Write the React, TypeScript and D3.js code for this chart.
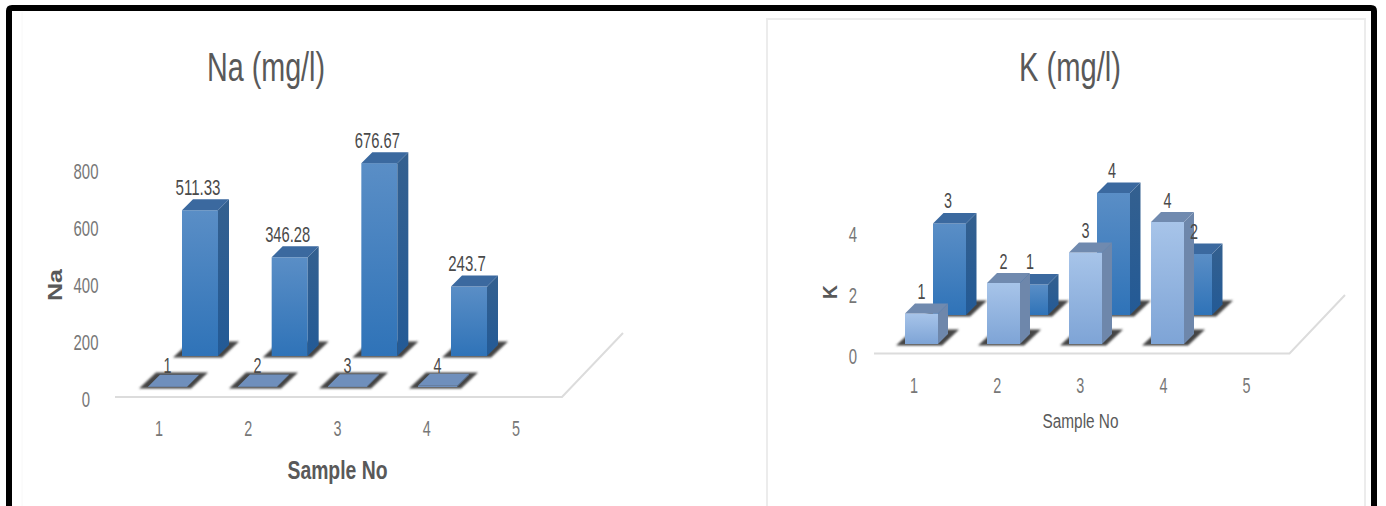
import React from "react";
import * as d3 from "d3";

// Sample numbers form the front row of both charts and label the horizontal axis.
const sampleNumbers = [1, 2, 3, 4];
const axisCategories = [1, 2, 3, 4, 5];
const naValues = [511.33, 346.28, 676.67, 243.7];
const kValues = [3, 1, 4, 2];
const naTicks = [0, 200, 400, 600, 800];
const kTicks = [0, 2, 4];

const NARROW = "'Liberation Sans Narrow', 'Liberation Sans', sans-serif";
const WIDE = "'Liberation Sans', sans-serif";

type Palette = { face: string; side: string; top: string };
const DARK_ROW: Palette = { face: "url(#faceDark)", side: "url(#sideDark)", top: "#3b699f" };
const LIGHT_ROW: Palette = { face: "url(#faceLight)", side: "#6e87ab", top: "#708aaf" };
const FLAT_ROW: Palette = { face: "#6f8fbc", side: "#5f7a9f", top: "#6f8fbc" };

type Row = {
  values: number[];
  left: [number, number];
  base: number;
  width: number;
  depth: number;
  labelGap: number;
  labelDx: number;
  palette: Palette;
};

type Spec = {
  title: string;
  titleX: number;
  titleWidth: number;
  yName: string;
  yNameX: number;
  yNameY: number;
  yNameLength: number;
  yDomain: [number, number];
  yRange: [number, number];
  yTicks: number[];
  yTickX: number;
  tickRange: [number, number];
  tickY: number;
  xName: { x: number; y: number; size: number; width: number; weight: number };
  floor: [number, number][];
  rows: Row[];
};

const naSpec: Spec = {
  title: "Na (mg/l)",
  titleX: 266,
  titleWidth: 118,
  yName: "Na",
  yNameX: 55,
  yNameY: 285,
  yNameLength: 32,
  yDomain: [0, 800],
  yRange: [399, 171],
  yTicks: naTicks,
  yTickX: 86,
  tickRange: [159, 516],
  tickY: 428,
  xName: { x: 337.5, y: 470, size: 25, width: 100, weight: 700 },
  floor: [[115, 397], [562, 397], [623, 333]],
  rows: [
    { values: naValues, left: [182, 451], base: 356, width: 36, depth: 11, labelGap: 12, labelDx: -2, palette: DARK_ROW },
    { values: sampleNumbers, left: [148, 418], base: 387, width: 39, depth: 12, labelGap: 9, labelDx: 0, palette: FLAT_ROW },
  ],
};

const kSpec: Spec = {
  title: "K (mg/l)",
  titleX: 1070,
  titleWidth: 102,
  yName: "K",
  yNameX: 830,
  yNameY: 292,
  yNameLength: 14,
  yDomain: [0, 4],
  yRange: [356, 234],
  yTicks: kTicks,
  yTickX: 853,
  tickRange: [914, 1246.5],
  tickY: 385,
  xName: { x: 1080.5, y: 420.5, size: 20, width: 76, weight: 400 },
  floor: [[874, 353.5], [1289.5, 353.5], [1345, 295]],
  rows: [
    { values: kValues, left: [933, 1179], base: 315, width: 33, depth: 10.5, labelGap: 12.5, labelDx: -1.5, palette: DARK_ROW },
    { values: sampleNumbers, left: [905, 1151], base: 344, width: 33, depth: 10, labelGap: 12, labelDx: 0, palette: LIGHT_ROW },
  ],
};

const points = (pts: [number, number][]) => pts.map((p) => p.join(",")).join(" ");

// Text squeezed to a set length, as the narrow digits and titles are drawn.
function Label(props: {
  x: number; y: number; text: string; size: number; width: number; fill: string;
  weight?: number; family?: string; rotate?: boolean;
}) {
  const { x, y, text, size, width, fill, weight = 400, family = NARROW, rotate } = props;
  return (
    <text
      x={x}
      y={y}
      dy="0.35em"
      textAnchor="middle"
      fontFamily={family}
      fontSize={size}
      fontWeight={weight}
      fill={fill}
      textLength={width}
      lengthAdjust="spacingAndGlyphs"
      transform={rotate ? `rotate(-90 ${x} ${y})` : undefined}
    >
      {text}
    </text>
  );
}

function Chart({ spec }: { spec: Spec }) {
  const y = d3.scaleLinear().domain(spec.yDomain).range(spec.yRange);
  const tickX = d3.scaleLinear().domain([1, 5]).range(spec.tickRange);
  const floorLine = d3.line()(spec.floor) ?? "";

  return (
    <g>
      <path d={floorLine} fill="none" stroke="#dcdcdc" strokeWidth={2} />
      <Label x={spec.titleX} y={67} text={spec.title} size={40} width={spec.titleWidth} fill="#595959" />
      <Label
        x={spec.yNameX} y={spec.yNameY} text={spec.yName} size={20} width={spec.yNameLength}
        fill="#595959" weight={700} family={WIDE} rotate
      />
      <Label
        x={spec.xName.x} y={spec.xName.y} text="Sample No" size={spec.xName.size}
        width={spec.xName.width} fill="#595959" weight={spec.xName.weight}
      />
      {spec.yTicks.map((t) => (
        <Label key={t} x={spec.yTickX} y={y(t)} text={String(t)} size={22} width={String(t).length * 8.3} fill="#777" />
      ))}
      {axisCategories.map((c) => (
        <Label key={c} x={tickX(c)} y={spec.tickY} text={String(c)} size={22} width={8} fill="#777" />
      ))}
      {spec.rows.map((row, r) => {
        const barX = d3.scaleLinear().domain([1, 4]).range(row.left);
        const { width: w, depth: d, base, palette } = row;
        return (
          <g key={r}>
            {row.values.map((v, i) => {
              const l = barX(sampleNumbers[i]);
              const h = y(0) - y(v);
              const t = base - h;
              return (
                <g key={i}>
                  <polygon
                    filter="url(#soften)"
                    fill="#444"
                    points={points([
                      [l - 9, base + 1.5], [l + w + 4, base + 1.5],
                      [l + w + 21, base - 14.5], [l + 8, base - 14.5],
                    ])}
                  />
                  <rect x={l} y={t} width={w} height={h} fill={palette.face} />
                  <polygon fill={palette.side} points={points([[l + w, t], [l + w + d, t - d], [l + w + d, base - d], [l + w, base]])} />
                  <polygon fill={palette.top} points={points([[l, t], [l + w, t], [l + w + d, t - d], [l + d, t - d]])} />
                </g>
              );
            })}
          </g>
        );
      })}
      {spec.rows.map((row, r) => {
        const barX = d3.scaleLinear().domain([1, 4]).range(row.left);
        return row.values.map((v, i) => {
          const text = String(v);
          const top = row.base - (y(0) - y(v)) - row.depth;
          return (
            <Label
              key={`${r}-${i}`}
              x={barX(sampleNumbers[i]) + row.width / 2 + row.labelDx}
              y={top - row.labelGap}
              text={text}
              size={22}
              width={text.length === 1 ? 8 : text.length * 7.5}
              fill="#4a4a4a"
            />
          );
        });
      })}
    </g>
  );
}

export default function App() {
  return (
    <svg
      width={1386}
      height={506}
      viewBox="0 0 1386 506"
      style={{ position: "absolute", left: 0, top: 0, display: "block", background: "#fff" }}
    >
      <defs>
        <linearGradient id="faceDark" x1="0" y1="0" x2="0" y2="1">
          <stop offset="0" stopColor="#5a8ec6" />
          <stop offset="1" stopColor="#2f73b8" />
        </linearGradient>
        <linearGradient id="sideDark" x1="0" y1="0" x2="0" y2="1">
          <stop offset="0" stopColor="#34608f" />
          <stop offset="1" stopColor="#235a96" />
        </linearGradient>
        <linearGradient id="faceLight" x1="0" y1="0" x2="0" y2="1">
          <stop offset="0" stopColor="#a7c4e9" />
          <stop offset="1" stopColor="#7ea4d6" />
        </linearGradient>
        <filter id="soften" x="-20%" y="-20%" width="140%" height="140%">
          <feGaussianBlur stdDeviation="0.8" />
        </filter>
      </defs>
      {/* Panel outline of the right chart and the faint inner edge on the left */}
      <path d="M767 506V19H1365V506" fill="none" stroke="#ececec" strokeWidth={2} />
      <path d="M22 12V506" fill="none" stroke="#f8f8f8" strokeWidth={1} />
      <Chart spec={naSpec} />
      <Chart spec={kSpec} />
      {/* Heavy black frame, open at the bottom */}
      <path d="M9 506V11Q9 8 12 8H1371Q1374 8 1374 11V506" fill="none" stroke="#000" strokeWidth={6} />
    </svg>
  );
}
